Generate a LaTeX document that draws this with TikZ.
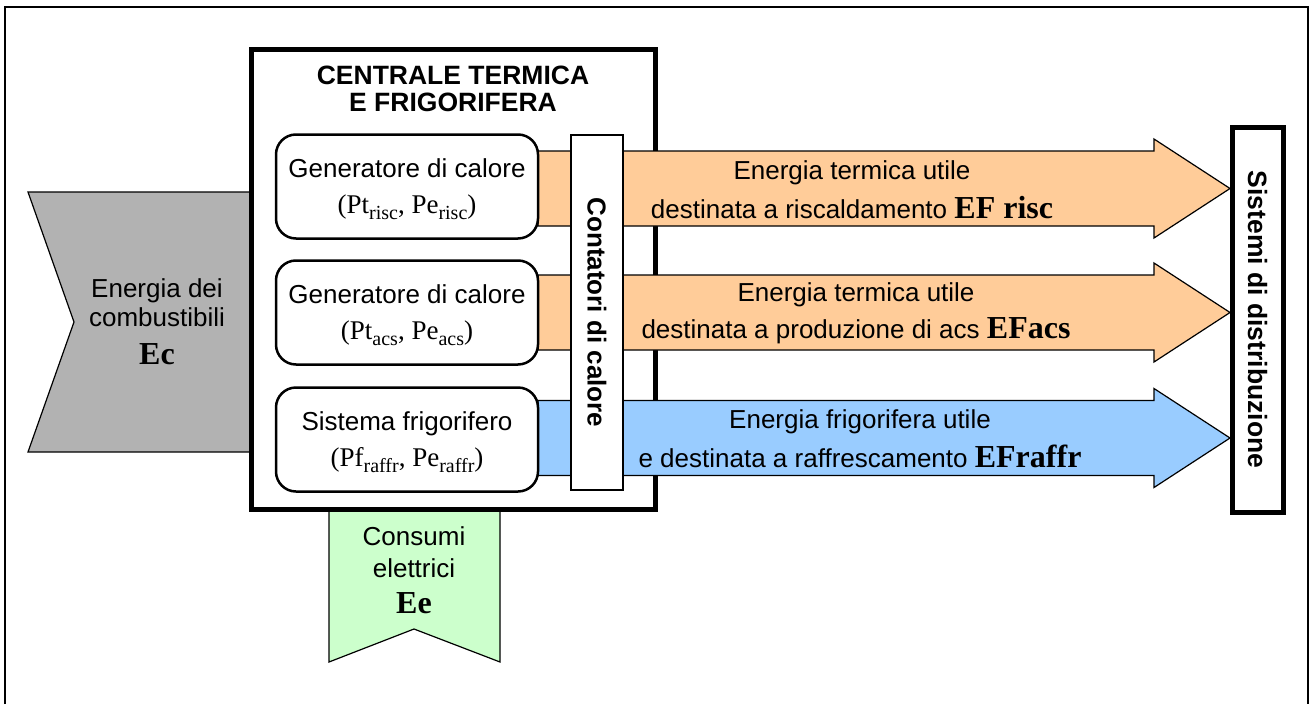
\documentclass[tikz,border=0pt]{standalone}
\usepackage{fontspec}
\setmainfont{Liberation Serif}
\setsansfont{Liberation Sans}
\usetikzlibrary{positioning}

\definecolor{caldo}{HTML}{FFCC99}
\definecolor{freddo}{HTML}{99CCFF}
\definecolor{combust}{HTML}{B2B2B2}
\definecolor{elettr}{HTML}{CCFFCC}

\newcommand{\grande}[1]{{\rmfamily\bfseries\fontsize{32}{32}\selectfont #1}}
\newcommand{\serif}[1]{{\rmfamily\fontsize{27}{32}\selectfont #1}}
\newcommand{\pedice}[1]{\raisebox{-6pt}{\fontsize{20}{20}\selectfont #1}}

\begin{document}
\begin{tikzpicture}[x=1pt,y=-1pt,line join=miter,
	font=\sffamily\fontsize{26}{29}\selectfont,
	gen/.style={draw,line width=2.5pt,rounded corners=20pt,fill=white,
		minimum width=262pt,minimum height=104pt},
	flow/.style={draw,line width=1.2pt},
	label/.style={align=center,inner sep=0pt}]
	\useasboundingbox (0,0) rectangle (1311,704);
	% cornice esterna
	\draw[line width=1.5pt] (5,704) -- (5,7) -- (1308,7) -- (1308,704);
	% ingressi
	\draw[flow,fill=combust] (28,192) -- (251,192) -- (251,452) -- (28,452) -- (74,322) -- cycle;
	\draw[flow,fill=elettr] (329,509) -- (500,509) -- (500,662) -- (414,629) -- (329,662) -- cycle;
	\node[label,font=\sffamily\fontsize{26}{29}\selectfont] (ec) at (157,322)
		{Energia dei\\combustibili\\[9pt]\grande{Ec}};
	\node[label,font=\sffamily\fontsize{26}{32}\selectfont] (ee) at (414,570)
		{Consumi\\elettrici\\[4pt]\grande{Ee}};
	% centrale
	\node[draw,line width=5pt,minimum width=404pt,minimum height=460pt] (centrale) at (453,279) {};
	\node[label,font=\sffamily\bfseries\fontsize{26.5}{27}\selectfont] (titolo) at (453,89)
		{CENTRALE TERMICA\\E FRIGORIFERA};
	% frecce
	\foreach \c/\col in {188.5/caldo,312.5/caldo,438/freddo}
		\draw[flow,fill=\col] (538,{\c-37.5}) -- (1154,{\c-37.5}) -- (1154,{\c-49.5})
			-- (1230,\c) -- (1154,{\c+49.5}) -- (1154,{\c+37.5}) -- (538,{\c+37.5}) -- cycle;
	\node[draw,line width=1.2pt,fill=white,rotate=-90,minimum width=355pt,minimum height=52pt,
		font=\sffamily\bfseries\fontsize{26}{29}\selectfont] (contatori) at (597,312.5) {Contatori di calore};
	% generatori
	\node[gen] (gen1) at (407,186.5) {};
	\node[gen] (gen2) at (407,312.5) {};
	\node[gen] (gen3) at (407,439.5) {};
	\node[label,font=\sffamily\fontsize{26}{36}\selectfont] at ([yshift=-3pt]gen1.center)
		{Generatore di calore\\\serif{(Pt\pedice{risc}, Pe\pedice{risc})}};
	\node[label,font=\sffamily\fontsize{26}{36}\selectfont] at ([yshift=-3pt]gen2.center)
		{Generatore di calore\\\serif{(Pt\pedice{acs}, Pe\pedice{acs})}};
	\node[label,font=\sffamily\fontsize{26}{36}\selectfont] at ([yshift=-3pt]gen3.center)
		{Sistema frigorifero\\\serif{(Pf\pedice{raffr}, Pe\pedice{raffr})}};
	% testi frecce
	\node[label,font=\sffamily\fontsize{26}{39}\selectfont] (risc) at (852,190)
		{Energia termica utile\\destinata a riscaldamento \grande{EF risc}};
	\node[label,font=\sffamily\fontsize{26}{37}\selectfont] (acs) at (856,313)
		{Energia termica utile\\destinata a produzione di acs \grande{EFacs}};
	\node[label,font=\sffamily\fontsize{26}{39}\selectfont] (raffr) at (860,439)
		{Energia frigorifera utile\\e destinata a raffrescamento \grande{EFraffr}};
	% distribuzione
	\node[draw,line width=5pt,fill=white,rotate=-90,minimum width=385pt,minimum height=51pt,
		font=\sffamily\bfseries\fontsize{26.5}{29}\selectfont] (distr) at (1257.5,319.5) {Sistemi di distribuzione};
\end{tikzpicture}
\end{document}
